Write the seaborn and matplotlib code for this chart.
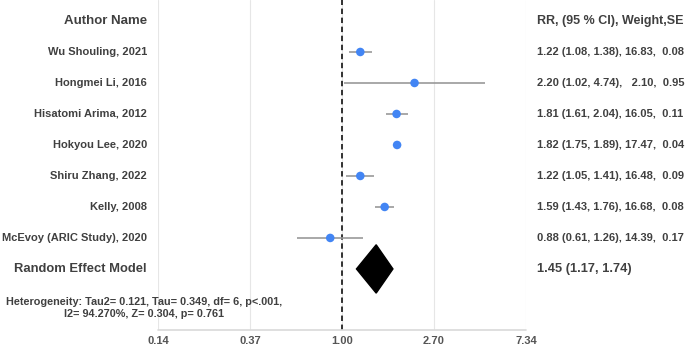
import numpy as np
import pandas as pd
import matplotlib.pyplot as plt
import seaborn as sns
from matplotlib.transforms import blended_transform_factory

plt.switch_backend('Agg')

# study data
authors = ['Wu Shouling, 2021', 'Hongmei Li, 2016', 'Hisatomi Arima, 2012',
           'Hokyou Lee, 2020', 'Shiru Zhang, 2022', 'Kelly, 2008',
           'McEvoy (ARIC Study), 2020']
rr = [1.22, 2.20, 1.81, 1.82, 1.22, 1.59, 0.88]
ci_low = [1.08, 1.02, 1.61, 1.75, 1.05, 1.43, 0.61]
ci_high = [1.38, 4.74, 2.04, 1.89, 1.41, 1.76, 1.26]
weight = [16.83, 2.10, 16.05, 17.47, 16.48, 16.68, 14.39]
se = [0.08, 0.95, 0.11, 0.04, 0.09, 0.08, 0.17]

# pooled estimate
pooled_rr = 1.45
pooled_low = 1.17
pooled_high = 1.74
heterogeneity = 'Heterogeneity: Tau2= 0.121, Tau= 0.349, df= 6, p<.001,\nI2= 94.270%, Z= 0.304, p= 0.761'

tick_vals = np.exp([-2, -1, 0, 1, 2])
tick_labels = ['0.14', '0.37', '1.00', '2.70', '7.34']

sns.set_style('white')
plt.rcParams['font.family'] = ['Liberation Sans', 'DejaVu Sans']

df = pd.DataFrame({'author': authors, 'rr': rr, 'low': ci_low, 'high': ci_high,
                   'row': np.arange(1, len(authors) + 1)})

fig = plt.figure(figsize=(6.85, 3.49), dpi=100)
ax = fig.add_axes([158 / 685, 19 / 349, 368 / 685, 330 / 349])

ax.set_xscale('log')
ax.set_xlim(tick_vals[0], tick_vals[-1])
ax.set_ylim(9.97, -0.677)

# grid + reference line
for t in tick_vals:
    ax.axvline(t, color='#e6e6e6', lw=0.8, zorder=0)
ax.axhline(9.97, color='#d9d9d9', lw=1.2, clip_on=False)
ax.axvline(1.0, color='#222222', lw=1.3, ls=(0, (3, 2)), zorder=1)

# CIs and points
ax.hlines(df['row'], df['low'], df['high'], color='#999999', lw=1.2, zorder=2)
sns.scatterplot(data=df, x='rr', y='row', ax=ax, color='#4285f4', s=38,
                edgecolor='none', zorder=3, legend=False)

# pooled diamond
ax.fill([pooled_low, pooled_rr, pooled_high, pooled_rr],
        [8, 8 - 0.78, 8, 8 + 0.78], color='black', zorder=3)

for s in ax.spines.values():
    s.set_visible(False)
ax.set_yticks([])
ax.set_xticks(tick_vals)
ax.set_xticklabels(tick_labels)
ax.minorticks_off()
ax.tick_params(axis='x', length=0, pad=4, labelsize=8, labelcolor='#555555')
for lab in ax.get_xticklabels():
    lab.set_fontweight('bold')
ax.set_xlabel('')
ax.set_ylabel('')

txt = '#404040'
# x in figure coords, y in data rows
tr = blended_transform_factory(fig.transFigure, ax.transData)

# left column
lx = 147 / 685
ax.text(lx, 0, 'Author Name', transform=tr, fontsize=9.5, fontweight='bold',
        color=txt, ha='right', va='center')
for i, a in enumerate(authors):
    ax.text(lx, i + 1, a, transform=tr, fontsize=8, fontweight='bold',
            color=txt, ha='right', va='center')
ax.text(lx, 8, 'Random Effect Model', transform=tr, fontsize=9.4, fontweight='bold',
        color=txt, ha='right', va='center')
ax.text(144 / 685, 9.25, heterogeneity, transform=tr, fontsize=7.8, fontweight='bold',
        color=txt, ha='center', va='center', linespacing=1.25)

# right column
rx = 537 / 685
ax.text(rx, 0, 'RR, (95 % CI), Weight,SE', transform=tr, fontsize=9, fontweight='bold',
        color=txt, ha='left', va='center')
for i in range(len(authors)):
    w = f'{weight[i]:.2f}'
    if weight[i] < 10:
        w = '  ' + w
    label = f'{rr[i]:.2f} ({ci_low[i]:.2f}, {ci_high[i]:.2f}), {w},  {se[i]:.2f}'
    ax.text(rx, i + 1, label, transform=tr, fontsize=8, fontweight='bold',
            color=txt, ha='left', va='center')
ax.text(rx, 8, f'{pooled_rr:.2f} ({pooled_low:.2f}, {pooled_high:.2f})', transform=tr,
        fontsize=9.3, fontweight='bold', color=txt, ha='left', va='center')

plt.savefig('out.png', dpi=100)
